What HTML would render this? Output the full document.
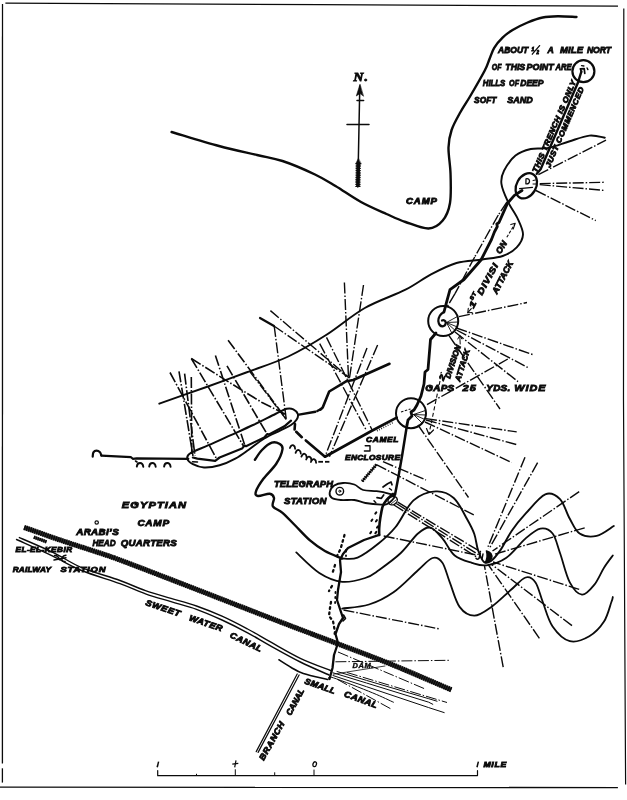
<!DOCTYPE html>
<html><head><meta charset="utf-8"><title>Map</title>
<style>
html,body{margin:0;padding:0;background:#fff;}
body{width:627px;height:800px;overflow:hidden;font-family:"Liberation Sans",sans-serif;}
svg{display:block;position:absolute;left:0;top:0;filter:grayscale(1);}
svg path,svg line,svg circle,svg ellipse{fill:none;stroke:#0b0b0b;stroke-linecap:round;stroke-linejoin:round;}
svg .b{stroke-linecap:butt;}
svg .fl{fill:#0b0b0b;}
svg text{font-family:"Liberation Sans",sans-serif;font-weight:bold;font-style:italic;fill:#0b0b0b;stroke:#0b0b0b;stroke-width:0.85;}
svg text.s{font-family:"Liberation Serif",serif;}
svg text.n{stroke-width:0.35;}
</style></head>
<body>
<svg width="627" height="800" viewBox="0 0 627 800">
<path d="M5.4 3.1 L320 4.7 L618 6.2" stroke-width="1.3" class="b"/>
<path d="M2.5 4.1 L2.4 763.5" stroke-width="1.3" class="b"/>
<path d="M2.4 768.3 L2.4 782.6" stroke-width="1.3" class="b"/>
<path d="M623.8 8.5 L623.5 400 L625.6 784.6" stroke-width="1.2" class="b"/>
<path d="M0 787.1 L617.9 787.6" stroke-width="1.3" class="b"/>
<path d="M171.6 132 C179.5 134.3 204.8 142.2 219 146 C233.2 149.8 246.4 152.5 257 155 C267.6 157.5 272.8 157.8 282.5 161 C292.2 164.2 306.2 170.3 315 174.5 C323.8 178.7 327.8 181.4 335.5 186 C343.2 190.6 352.5 197.3 361 202 C369.5 206.7 379.1 210.7 386.5 214 C393.9 217.3 398.5 219.6 405.5 222 C412.5 224.4 422.3 228.7 428.5 228.5 C434.7 228.3 438.9 225.1 442.5 220.8 C446.1 216.6 448.7 211 450 203 C451.3 195 450.8 182.2 450.5 173 C450.2 163.8 448.3 154.7 448.5 147.5 C448.7 140.3 449.6 135.9 451.6 130 C453.6 124.1 457.4 117.6 460.5 112 C463.6 106.4 466 103.3 470 96.5 C474 89.7 481.2 77.2 484.5 71 C487.8 64.8 487.9 62.9 489.5 59 C491.1 55.1 492 51.4 494.2 47.8 C496.4 44.2 499.5 40.6 502.6 37.6 C505.7 34.6 508.4 32.5 512.6 30 C516.8 27.5 522.6 24.6 527.6 22.5 C532.6 20.4 537.7 18.5 542.7 17.5 C547.7 16.5 552.1 16.4 557.7 16.3 C563.3 16.2 573.4 16.9 576.5 17" stroke-width="2.4"/>
<path d="M159.3 403.7 C167.2 400.9 192.2 392.1 206.5 387 C220.8 381.9 231.2 378.1 244.8 373 C258.4 367.9 274.7 362.9 288.3 356.5 C301.9 350.1 313.8 342.9 326.5 334.8 C339.2 326.7 351.6 315.5 364.8 308 C378 300.5 394.5 295.3 405.5 289.7 C416.5 284.1 422.5 278.8 431 274.4 C439.5 269.9 448 265.5 456.5 263 C465 260.5 474.3 260.7 482 259.5 C489.7 258.3 496.9 258 502.7 256 C508.5 254 513.3 250.9 516.7 247.3 C520.1 243.7 522.8 239.3 523 234.6 C523.2 229.9 520.5 224.8 518 219.3 C515.5 213.8 510.6 207.4 507.8 201.4 C505 195.4 502 188.7 501.4 183.6 C500.8 178.5 501.6 175.5 504 170.8 C506.4 166.1 511 159.1 515.5 155.5 C520 151.9 525.3 150.3 530.8 149 C536.3 147.7 542.2 149.2 548.6 147.9 C555 146.7 562.2 143.6 569 141.5 C575.8 139.4 583.4 136.2 589.4 135.6 C595.4 135 602.2 137.3 604.8 137.7" stroke-width="1.9"/>
<path d="M254.9 459.7 C256.1 458.1 259.2 452.8 262 450 C264.8 447.2 268.9 443.7 271.8 442.7 C274.7 441.7 277.5 442.7 279.3 443.8 C281.1 444.9 283 445.7 282.5 449.1 C282 452.5 279.3 459.1 276.1 464 C272.9 468.9 266.8 474.2 263.4 478.8 C260 483.4 256.8 488.7 255.9 491.6 C255 494.5 255.7 495.6 258 496 C260.3 496.4 267 493.4 269.7 493.7 C272.4 494 273.5 495.9 274 498 C274.5 500.1 271.5 503.9 272.9 506.4 C274.3 508.9 278.8 509.6 282.5 512.8 C286.2 516 290.6 520.9 295.2 525.5 C299.8 530.1 305.1 536.1 310 540.4 C314.9 544.6 319.6 548 324.9 551 C330.2 554 339.1 557.2 341.9 558.5" stroke-width="2.4"/>
<path d="M341.9 558.5 C344.5 558.4 351.5 560.1 357.6 557.6 C363.8 555.1 372.5 548.4 378.8 543.3 C385.1 538.2 389.8 534.1 395.6 527 C401.4 519.9 406.8 506.3 413.5 500.4 C420.2 494.5 429.1 491.8 435.8 491.4 C442.5 491 448.5 493.4 453.7 498 C458.9 502.6 463.6 513 467 519 C470.4 525 472.5 528.8 474.3 534 C476.1 539.2 476.4 545.3 478 550 C479.6 554.7 481.8 560.2 484 562 C486.2 563.8 488.2 563 491 561 C493.8 559 497.1 554.9 500.6 549.9 C504.1 544.9 507.6 536.8 511.8 530.7 C516 524.6 520.4 519.3 526 513.2 C531.6 507.1 539.6 496.6 545.3 494.3 C551 492 555.9 495.1 560 499.2 C564.1 503.3 566.5 513.1 569.8 518.8 C573.1 524.5 575.1 530.6 579.6 533.5 C584.1 536.4 591 537.1 596.7 535.9 C602.4 534.6 610.9 527.6 613.8 526" stroke-width="1.9"/>
<path d="M296.3 552.4 C300.1 555.8 311.7 568 319.3 572.9 C326.9 577.8 334.6 580.9 342.2 581.8 C349.8 582.6 359.1 579.9 365.2 578 C371.3 576.1 372.9 574.4 378.8 570.2 C384.7 566 394.3 559.1 400.8 553 C407.3 546.9 413.1 537.7 418 533.5 C422.9 529.3 426.1 526.8 430.2 527.6 C434.3 528.4 438.3 533.8 442.4 538.4 C446.5 543 449.8 551.4 454.7 555.5 C459.6 559.6 466.5 561.2 471.8 562.8 C477.1 564.4 480.8 566.1 486.5 565.3 C492.2 564.5 499.5 562.5 506 558 C512.5 553.5 520 543.3 525.7 538.4 C531.4 533.5 535.9 529.4 540.4 528.6 C544.9 527.8 549.3 529.4 552.6 533.5 C555.9 537.6 557.1 544.9 560 553 C562.9 561.1 566.1 575.4 569.8 582.4 C573.5 589.4 577.9 594.3 582 594.7 C586.1 595.1 590.5 589.4 594.2 584.9 C597.9 580.4 600.9 572.6 604 567.7 C607.1 562.8 611.3 557.5 612.8 555.5" stroke-width="1.8"/>
<path d="M342.2 608.6 C346.7 607.9 360.4 607.2 369 604.5 C377.6 601.8 385.3 597.9 393.5 592.2 C401.7 586.5 411.5 575.9 418 570.2 C424.5 564.5 428.5 559.2 432.6 558 C436.7 556.8 439.5 558.7 442.4 562.8 C445.3 566.9 446.9 575 449.8 582.4 C452.7 589.8 455.5 601.3 459.6 606.9 C463.7 612.5 469 615.7 474.3 615.7 C479.6 615.7 485.3 611.2 491.4 606.9 C497.5 602.6 505.3 594.7 511 589.8 C516.7 584.9 521.6 578.7 525.7 577.5 C529.8 576.3 532.6 578.3 535.5 582.4 C538.4 586.5 539.9 594.6 542.8 602 C545.6 609.4 548.1 620 552.6 626.5 C557.1 633 563.7 639.6 569.8 641.2 C575.9 642.8 583.6 639.6 589.3 636.3 C595 633 600.3 627.3 604 621.6 C607.7 615.9 609.9 606.1 611.4 602 C612.9 597.9 612.6 597.8 612.8 597" stroke-width="1.8"/>
<circle cx="583.4" cy="71.2" r="11" stroke-width="2.2"/>
<path d="M581.4 71.5 L578.1 82.2 L540.6 169.3 L536.8 173.8" stroke-width="2.4"/>
<path d="M581.4 72 L580.3 68.8 L584.2 68.6 L584.8 73.3" stroke-width="1.7"/>
<path d="M581.5 65.7 L583.9 66" stroke-width="1.3"/>
<path d="M587.1 68 L587.9 69.6" stroke-width="1.4"/>
<ellipse cx="526.3" cy="185.8" rx="9.7" ry="13.4" transform="rotate(30 526.3 185.8)" stroke-width="2.3"/>
<path d="M526 178.8 q3.8 -0.6 3.5 2.8 q-0.6 2.8 -3.6 2.2 z" stroke-width="1.3"/>
<path d="M519.6 188.7 L532.5 187.3" stroke-width="1.2"/>
<path d="M533 180.5 L535.5 180" stroke-width="1"/>
<path d="M533 184 L535.8 184" stroke-width="1"/>
<path d="M522 190.5 L514.4 195.4 L507.7 203 L502.9 213.6 L499 222.5 L496.8 224 L497.3 226.5 L494.4 232 L491.5 239.5 L481 260 L464 279.5 L450 289.7 L446.5 302.4 L444 312" stroke-width="2.8"/>
<circle cx="443.2" cy="321" r="15" stroke-width="2"/>
<path d="M444 312 Q438.5 315 438.3 321 Q439 326.5 443 326.3 Q446.5 325 445.5 321.5 Q444 319.5 442 320.5" stroke-width="2.2"/>
<path d="M446.5 322.5 L458 316.2" stroke-width="0.9"/>
<path d="M446.5 322.5 L458.2 322" stroke-width="0.9"/>
<path d="M446.5 322.5 L457.3 327" stroke-width="0.9"/>
<path d="M446.5 322.5 L455.2 330.5" stroke-width="0.9"/>
<path d="M446.5 322.5 L452 333.5" stroke-width="0.9"/>
<path d="M436 333 L430.5 339.5 L428 369.5 L425 372 L424 384 L421 396 L417 405 L414 410 L411 412 L412 416 L408 420 L407 425" stroke-width="2.8"/>
<circle cx="411" cy="413.2" r="15" stroke-width="2"/>
<path d="M401 412 L410.5 409" stroke-width="1.1" stroke-dasharray="2.5 1.5" class="b"/>
<path d="M413.5 414.5 L425.5 410.5" stroke-width="0.9"/>
<path d="M413.5 414.5 L425.8 415" stroke-width="0.9"/>
<path d="M413.5 414.5 L425 419.5" stroke-width="0.9"/>
<path d="M413.5 414.5 L422.5 423.5" stroke-width="0.9"/>
<path d="M407 425 L402.2 455 L398.3 477.5 L395 494.8" stroke-width="2.5"/>
<ellipse cx="392.7" cy="500.6" rx="4.8" ry="4" transform="rotate(-30 392.7 500.6)" stroke-width="1.4"/>
<path d="M389.5 502 L394.5 498" stroke-width="0.8"/>
<path d="M391 504 L396 500" stroke-width="0.8"/>
<path d="M393 494 C391.9 495 388.2 497.9 386.5 500 C384.8 502.1 383.6 503.7 382.6 506.7 C381.6 509.7 380.9 514.5 380.3 518 C379.7 521.5 379.4 525.2 379.2 528 C379 530.8 379.2 533.8 379.2 534.9" stroke-width="2.6"/>
<path d="M379.2 534.9 L364 540 L348 548 L343 554 L340 560 L341 572 L338 590 L337 600 L341 612 L343 618 L339 624 L335.5 634 L338 643 L334 655 L332.5 668 L329.5 679" stroke-width="2.3"/>
<path d="M343.5 615 L345.5 618.5 L343 621" stroke-width="1.6"/>
<path d="M344.5 535 L340.5 549 L337 556" stroke-width="2.3" stroke-dasharray="1.7 3.6"/>
<path d="M346 550 L346 556" stroke-width="1.8" stroke-dasharray="1.7 3.6"/>
<path d="M335 565 L332.5 573" stroke-width="2.3" stroke-dasharray="1.7 3.6"/>
<path d="M332 586 L329 591" stroke-width="2.3" stroke-dasharray="1.7 3.6"/>
<path d="M331 602 L330 608 L329 616 L333 621 L335 632 L334 637" stroke-width="2.3" stroke-dasharray="1.7 3.6"/>
<path d="M335.5 592 L335 606" stroke-width="1.8" stroke-dasharray="1 4"/>
<path d="M375.3 513.7 L376.3 512.3" stroke-width="2"/>
<path d="M371.4 520.9 L372.4 519.5" stroke-width="2"/>
<path d="M375.9 521.5 L376.9 520.1" stroke-width="2"/>
<path d="M377 527.7 L378 526.3" stroke-width="2"/>
<path d="M370.2 533.3 L371.2 531.9" stroke-width="2"/>
<path d="M375.3 533.3 L376.3 531.9" stroke-width="2"/>
<path d="M383 487 L387.6 483.7 L391 482 L392 484.8" stroke-width="1.7"/>
<path d="M389.5 488.5 L391.5 490" stroke-width="1.5"/>
<path d="M377 497.7 L381.4 498.3 L383.7 495" stroke-width="1.7"/>
<path d="M374 500.8 L375.8 502.8" stroke-width="1.5"/>
<path d="M389.5 363.8 L353.2 380 L346.5 381.2 L329.2 391.5 L322.7 407.6 L320.5 409.5" stroke-width="2.6"/>
<path d="M299 414.6 L315.4 411.7" stroke-width="2.4"/>
<path d="M317.3 411 L321 409" stroke-width="2.4"/>
<path d="M187.3 458.6 C186.9 456.7 187.1 455.2 190.6 453 C194.1 450.8 201.8 448.2 208.5 445.2 C215.2 442.2 223.4 438.6 230.8 435.2 C238.2 431.8 245.6 428.5 253 425 C260.4 421.5 269.8 416.7 275.4 414 C281 411.3 283.6 409.6 286.6 408.8 C289.6 408 291.4 408.4 293.3 409.3 C295.2 410.2 297.2 412.3 297.8 414 C298.4 415.7 297.8 417.7 296.7 419.5 C295.6 421.3 293.8 423.1 291 425 C288.2 426.9 284.4 428.4 280 430.7 C275.6 432.9 269.5 435.3 264.3 438.5 C259.1 441.7 253.5 446.3 248.7 449.7 C243.9 453.1 240.2 456 235.3 458.6 C230.5 461.2 224.8 463.8 219.6 465.3 C214.4 466.8 208.4 467.7 204 467.5 C199.6 467.3 195.7 465.7 192.9 464.2 C190.1 462.7 187.7 460.5 187.3 458.6Z" stroke-width="2"/>
<path d="M192.9 457.5 L197.3 458.6 L215.2 460.8 L219.6 457.5 L242 448.6 L244.6 445.5 L246 446.2 L264.3 437.4 L267.3 434 L269 434.5 L284.4 426.3 L291 420.7" stroke-width="2.2"/>
<path d="M192.5 461.8 L197.5 462" stroke-width="1.5"/>
<path d="M295 424 L294.6 429.5" stroke-width="2.6"/>
<path d="M296.2 431.8 L301.8 437.2" stroke-width="2.6"/>
<path d="M305.8 440.4 L325 456.7" stroke-width="2.6"/>
<path d="M325 456.7 L371.9 430.8 L396.7 417.6" stroke-width="2.7"/>
<path d="M376.5 429.6 L393 421" stroke-width="1.6" stroke-dasharray="0.8 1.6" class="b" transform="translate(0.5 1.3)"/>
<path d="M92.7 456.6 C92.8 455.9 92.8 453.4 93.4 452.4 C94 451.4 95.4 450.6 96.5 450.6 C97.6 450.6 99.2 451.4 100 452.2 C100.8 453 101.1 454.9 101.3 455.4" stroke-width="2.2"/>
<path d="M101.3 455.6 L131 457.2 L132.8 458.8 L136.7 458.3 L188.3 458.8" stroke-width="2.2"/>
<path d="M136.8 466.6 q0.4 -3.6 3.2 -3.6 q2.8 0 3.3 3.8" stroke-width="1.9"/>
<path d="M149.2 466.6 q0.4 -3.6 3.2 -3.6 q2.8 0 3.3 3.8" stroke-width="1.9"/>
<path d="M164.1 466.6 q0.4 -3.6 3.2 -3.6 q2.8 0 3.3 3.8" stroke-width="1.9"/>
<path d="M135.5 461 L137 462" stroke-width="1.6"/>
<path d="M289.9 448 q1.5 -3.6 3.6 -2.6 q1.6 0.8 1.6 3.4" stroke-width="1.8"/>
<path d="M295.6 452.8 q1.5 -3.6 3.6 -2.6 q1.6 0.8 1.6 3.4" stroke-width="1.8"/>
<path d="M301.4 456.6 q1.5 -3.6 3.6 -2.6 q1.6 0.8 1.6 3.4" stroke-width="1.8"/>
<path d="M306.2 459.5 q1.5 -3.6 3.6 -2.6 q1.6 0.8 1.6 3.4" stroke-width="1.8"/>
<path d="M310.9 462 q1.5 -3.6 3.6 -2.6 q1.6 0.8 1.6 3.4" stroke-width="1.8"/>
<path d="M318.3 461.8 L323 461.8" stroke-width="1.8" class="b"/>
<path d="M325 461.8 L329.4 461.8" stroke-width="1.8" class="b"/>
<path d="M329.7 492.3 C330.1 490.2 332 487.2 334.2 485.6 C336.4 484.1 339.8 483.2 343.1 483 C346.5 482.8 351 483.3 354.3 484.5 C357.6 485.7 359.5 488.9 363.2 490 C366.9 491.1 372.5 490.6 376.6 491.2 C380.7 491.8 384.8 492.5 387.8 493.4 C390.8 494.3 394.5 494.8 394.5 496.5 C394.5 498.2 390.1 502.4 387.8 503.8 C385.6 505.2 384.7 504.7 381 504.6 C377.3 504.5 369.8 503.8 365.4 503 C360.9 502.2 358.4 500.5 354.3 500 C350.2 499.5 344.6 500.4 340.9 500 C337.2 499.6 333.9 499.2 332 497.9 C330.1 496.6 329.3 494.4 329.7 492.3Z" stroke-width="1.8"/>
<circle cx="339.8" cy="491.2" r="3.8" stroke-width="1.4"/>
<circle cx="339.8" cy="491.2" r="1" stroke-width="1"/>
<path d="M376.5 464.5 L362 481.5" stroke-width="1.4" class="b"/>
<path d="M376.5 464.5 L362 481.5" stroke-width="3.4" stroke-dasharray="1.3 1" class="b"/>
<path d="M365.2 445.8 L370 445.8 L370 451 L364.4 451" stroke-width="1.4"/>
<path d="M24.1 527.4 C30.5 529.6 49.6 536.5 62.4 540.8 C75.2 545.1 90.3 549.8 100.7 553.3 C111.1 556.8 109 555.9 125 561.9 C141 567.9 170.7 579.4 196.5 589.4 C222.3 599.4 256.6 612.8 280 621.8 C303.4 630.8 318.7 636.5 337 643.5 C355.3 650.5 370.9 656.1 390 663.8 C409.1 671.5 441.2 685.5 451.4 689.8" stroke-width="4" class="b" stroke-opacity="0.8"/>
<path d="M24.1 527.4 C30.5 529.6 49.6 536.5 62.4 540.8 C75.2 545.1 90.3 549.8 100.7 553.3 C111.1 556.8 109 555.9 125 561.9 C141 567.9 170.7 579.4 196.5 589.4 C222.3 599.4 256.6 612.8 280 621.8 C303.4 630.8 318.7 636.5 337 643.5 C355.3 650.5 370.9 656.1 390 663.8 C409.1 671.5 441.2 685.5 451.4 689.8" stroke-width="5.3" stroke-dasharray="1.7 0.5" class="b"/>
<path d="M19.4 537.6 C25 540 42.4 547.3 52.8 552.3 C63.2 557.3 70.4 562.9 81.6 567.6 C92.8 572.3 109.3 576.6 120 580.5 C130.7 584.4 137 587.7 145.5 590.7 C154 593.7 162.5 595.9 171 598.4 C179.5 600.9 188 603 196.5 606 C205 609 213.5 612.4 222 616.2 C230.5 620 239.6 624.8 247.6 629 C255.6 633.2 261.2 636.8 270 641.7 C278.8 646.6 290.2 653.5 300.3 658.3 C310.4 663.1 325.6 668.5 330.6 670.5" stroke-width="1.4"/>
<path d="M16.5 539.5 C22.6 542.3 41.9 550.9 52.8 556.1 C63.6 561.3 70.4 565.9 81.6 570.5 C92.8 575.1 109.3 579.7 120 583.6 C130.7 587.5 137 590.8 145.5 593.8 C154 596.8 162.5 599.1 171 601.7 C179.5 604.3 188 606.2 196.5 609.3 C205 612.3 213.5 616.1 222 620 C230.5 623.9 239.6 628.5 247.6 632.8 C255.6 637.1 261.2 640.7 270 645.6 C278.8 650.5 290.5 657.1 300.3 662 C310.1 666.9 324.2 672.8 329 675" stroke-width="1.4"/>
<path d="M33.8 537.2 L46.5 541.8" stroke-width="2.6" class="b" stroke-opacity="0.7"/>
<path d="M33.8 537.2 L46.5 541.8" stroke-width="3.4" stroke-dasharray="1.5 0.5" class="b"/>
<path d="M54.5 555.5 q4.2 0 4.8 4.2 M66 555.2 q-4.6 0.6 -4 4.8 q0.6 2 3.2 1.4 M54 560 l12 -2.2" stroke-width="1.4"/>
<path d="M279 659.8 C281 661.1 287.1 665.1 291.2 667.4 C295.2 669.7 297.2 671.5 303.3 673.5 C309.4 675.5 323.6 678.5 327.6 679.5" stroke-width="1.7"/>
<path d="M329 679 C329.7 678.8 326 675.5 333.3 677.8 C340.6 680.1 362.7 688.8 372.7 692.9 C382.7 697 389.9 700.7 393.4 702.2" stroke-width="1"/>
<path d="M297.2 674 L256.2 751.6" stroke-width="1.2"/>
<path d="M299.1 675 L258.1 752.4" stroke-width="1.2"/>
<path d="M338 652 L424.5 688.7" stroke-width="1" stroke-dasharray="11 2 1.5 2" class="b"/>
<path d="M337 671.5 L366.5 680.4 L428.7 698.7 L437 701.2" stroke-width="1"/>
<path d="M333 672.8 L366.5 683 L428.7 702.2 L432.8 704.3" stroke-width="1"/>
<path d="M347 672.5 L447 702.5" stroke-width="1" stroke-dasharray="11 2 1.5 2" class="b"/>
<path d="M333 675.5 L366.5 686.7 L428.7 707.6 L444.2 712.6" stroke-width="1"/>
<path d="M337.4 679.4 L392 709.5" stroke-width="1" stroke-dasharray="11 2 1.5 2" class="b"/>
<path d="M335.4 661.8 L449.4 660.3" stroke-width="1" stroke-dasharray="11 2 1.5 2" class="b"/>
<path d="M333.3 674.2 L385 666" stroke-width="0.8"/>
<path d="M343.5 610 L440 629" stroke-width="1.4" stroke-dasharray="11 2 1.5 2" class="b"/>
<path d="M359.8 86 L357.8 187" stroke-width="1.5"/>
<path d="M359.9 84.5 L356.3 96 L360 93.5 L363.3 96 Z" stroke-width="0.6" class="fl"/>
<path d="M347 124.4 L369 124.6" stroke-width="1.5"/>
<path d="M357 100.6 L363.6 100.6" stroke-width="1.5"/>
<path d="M358.3 163 L357.9 187" stroke-width="3.6" class="b"/>
<path d="M358.3 163 L357.9 187" stroke-width="5.2" stroke-dasharray="1.4 0.9" class="b"/>
<path d="M358.3 158.5 L355.6 164 L361 164 Z" stroke-width="0.5" class="fl"/>
<text class="s" font-size="12" transform="translate(353.5 81) rotate(0) scale(1.134 1)" textLength="12.791" lengthAdjust="spacing">N.</text>
<path d="M157.7 770.6 L157.7 775.7 L477.5 775.6 L477.5 770.7" stroke-width="1.2"/>
<path d="M196.5 775.6 L196.5 774.2" stroke-width="1"/>
<path d="M274.7 775.6 L274.7 772.7" stroke-width="1"/>
<path d="M235.3 775.6 L235.3 769.7" stroke-width="1"/>
<path d="M314 775.6 L314 770" stroke-width="1"/>
<path d="M158.6 761.6 L157.2 767.2" stroke-width="1.5" class="b"/>
<path d="M236 760.3 L234.7 767.3" stroke-width="1.2" class="b"/>
<path d="M232.3 764.2 L238.3 763.4" stroke-width="1.2" class="b"/>
<ellipse cx="314.7" cy="764.2" rx="1.7" ry="2.5" transform="rotate(15 314.7 764.2)" stroke-width="1.3"/>
<path d="M478.4 761.6 L477 767.2" stroke-width="1.5" class="b"/>
<text class="t" font-size="7.6" transform="translate(483.4 767.2) rotate(0) scale(1.141 1)" textLength="19.986" lengthAdjust="spacing">MILE</text>
<text class="t" font-size="9.4" transform="translate(498.1 53.4) rotate(0)" textLength="30.1" lengthAdjust="spacingAndGlyphs">ABOUT</text>
<text class="t" font-size="9.4" transform="translate(547.4 53.4) rotate(0)" textLength="6.3" lengthAdjust="spacingAndGlyphs">A</text>
<text class="t" font-size="9.4" transform="translate(560.1 53.4) rotate(0) scale(1.013 1)" textLength="22.696" lengthAdjust="spacing">MILE</text>
<text class="t" font-size="9.4" transform="translate(586.9 53.4) rotate(0)" textLength="24.2" lengthAdjust="spacingAndGlyphs">NORT</text>
<text class="t" font-size="5" transform="translate(531.5 50.5) rotate(0)">1</text>
<path d="M532.3 54.2 L539.6 45.6" stroke-width="1.3"/>
<text class="t" font-size="4.5" transform="translate(536.5 54) rotate(0)">2</text>
<text class="t" font-size="9.4" transform="translate(491.7 70) rotate(0)" textLength="9.7" lengthAdjust="spacingAndGlyphs">OF</text>
<text class="t" font-size="9.4" transform="translate(505.3 70) rotate(0)" textLength="19.9" lengthAdjust="spacingAndGlyphs">THIS</text>
<text class="t" font-size="9.4" transform="translate(526.6 70) rotate(0)" textLength="27.1" lengthAdjust="spacingAndGlyphs">POINT</text>
<text class="t" font-size="9.4" transform="translate(555.5 70) rotate(0)" textLength="16.1" lengthAdjust="spacingAndGlyphs">ARE</text>
<text class="t" font-size="9.4" transform="translate(482.8 86) rotate(0)" textLength="22.5" lengthAdjust="spacingAndGlyphs">HILLS</text>
<text class="t" font-size="9.4" transform="translate(509.1 86) rotate(0)" textLength="9.9" lengthAdjust="spacingAndGlyphs">OF</text>
<text class="t" font-size="9.4" transform="translate(520.2 86) rotate(0)" textLength="23.3" lengthAdjust="spacingAndGlyphs">DEEP</text>
<text class="t" font-size="9.4" transform="translate(474.1 102.6) rotate(0)" textLength="22.2" lengthAdjust="spacingAndGlyphs">SOFT</text>
<text class="t" font-size="9.4" transform="translate(507.3 102.6) rotate(0)" textLength="25.5" lengthAdjust="spacingAndGlyphs">SAND</text>
<text class="t" font-size="8.4" transform="translate(406 204.4) rotate(0) scale(1.139 1)" textLength="27.208" lengthAdjust="spacing">CAMP</text>
<text class="t" font-size="9.6" transform="translate(425.2 391.2) rotate(0) scale(1.036 1)" textLength="27.986" lengthAdjust="spacing">GAPS</text>
<text class="t" font-size="9.6" transform="translate(462.5 391.2) rotate(0) scale(1.145 1)" textLength="11.786" lengthAdjust="spacing">25</text>
<text class="t" font-size="9.6" transform="translate(486.3 391.2) rotate(0) scale(1.037 1)" textLength="23.055" lengthAdjust="spacing">YDS.</text>
<text class="t" font-size="9.6" transform="translate(514.3 391.2) rotate(0) scale(1.132 1)" textLength="27.463" lengthAdjust="spacing">WIDE</text>
<text class="t" font-size="7.6" transform="translate(366 442.4) rotate(0) scale(1.11 1)" textLength="29.202" lengthAdjust="spacing">CAMEL</text>
<text class="t" font-size="7.8" transform="translate(345 460) rotate(0) scale(1.068 1)" textLength="51.512" lengthAdjust="spacing">ENCLOSURE</text>
<text class="t" font-size="9.2" transform="translate(273.9 486.7) rotate(0) scale(1.024 1)" textLength="57.819" lengthAdjust="spacing">TELEGRAPH</text>
<text class="t" font-size="9.2" transform="translate(284 503.5) rotate(0) scale(1.048 1)" textLength="40.466" lengthAdjust="spacing">STATION</text>
<text class="t" font-size="9.2" transform="translate(121.8 507.9) rotate(0) scale(1.202 1)" textLength="53.495" lengthAdjust="spacing">EGYPTIAN</text>
<text class="t" font-size="9.2" transform="translate(137.4 526.1) rotate(0) scale(1.094 1)" textLength="28.986" lengthAdjust="spacing">CAMP</text>
<text class="t" font-size="9.2" transform="translate(76.2 534.8) rotate(0) scale(1.068 1)" textLength="39.795" lengthAdjust="spacing">ARABI&#8217;S</text>
<text class="t" font-size="9.4" transform="translate(92.4 545.8) rotate(0)" textLength="23.2" lengthAdjust="spacingAndGlyphs">HEAD</text>
<text class="t" font-size="9.4" transform="translate(120.8 545.8) rotate(0) scale(1.036 1)" textLength="54.064" lengthAdjust="spacing">QUARTERS</text>
<text class="t" font-size="7.2" transform="translate(15.5 551.7) rotate(0) scale(1.132 1)" textLength="49.933" lengthAdjust="spacing">EL-EL-KEBIR</text>
<text class="t" font-size="7.9" transform="translate(12.7 572.4) rotate(0) scale(1.045 1)" textLength="36.651" lengthAdjust="spacing">RAILWAY</text>
<text class="t" font-size="7.9" transform="translate(60.5 572.4) rotate(0) scale(1.189 1)" textLength="37.851" lengthAdjust="spacing">STATION</text>
<text class="t" font-size="8.4" transform="translate(145 605) rotate(18.6) scale(1.114 1)" textLength="32.377" lengthAdjust="spacing">SWEET</text>
<text class="t" font-size="8.4" transform="translate(188.4 620.3) rotate(18.8) scale(1.093 1)" textLength="31.785" lengthAdjust="spacing">WATER</text>
<text class="t" font-size="8.4" transform="translate(229.2 637.1) rotate(25.6) scale(1.095 1)" textLength="31.487" lengthAdjust="spacing">CANAL</text>
<text class="t" font-size="8.3" transform="translate(263.8 761.1) rotate(-60.8) scale(1.107 1)" textLength="38.816" lengthAdjust="spacing">BRANCH</text>
<text class="t" font-size="8.3" transform="translate(290.8 716) rotate(-62.1)" textLength="28.9" lengthAdjust="spacingAndGlyphs">CANAL</text>
<text class="t" font-size="8.4" transform="translate(304 683.5) rotate(19.2) scale(1.058 1)" textLength="30.223" lengthAdjust="spacing">SMALL</text>
<text class="t" font-size="8.4" transform="translate(343.6 696.2) rotate(20.5) scale(1.097 1)" textLength="31.525" lengthAdjust="spacing">CANAL</text>
<text class="n" font-size="6.6" transform="translate(352.4 667.5) rotate(0) scale(1.135 1)" textLength="18.504" lengthAdjust="spacing">DAM.</text>
<text class="t" font-size="7.5" transform="translate(536.8 173.1) rotate(-66.7) scale(1.118 1)" textLength="89.013" lengthAdjust="spacing">THIS TRENCH IS ONLY</text>
<text class="t" font-size="7.5" transform="translate(549.9 167.9) rotate(-66.7) scale(1.118 1)" textLength="77.392" lengthAdjust="spacing">JUST COMMENCED</text>
<text class="t" font-size="8.2" transform="translate(473.6 308.8) rotate(-61.9)" textLength="6.6" lengthAdjust="spacingAndGlyphs">1</text>
<text class="t" font-size="5.2" transform="translate(472.5 300.5) rotate(-61.3) scale(1.139 1)" textLength="7.308" lengthAdjust="spacing">ST</text>
<text class="t" font-size="8.6" transform="translate(481.9 295.7) rotate(-61.5) scale(1.211 1)" textLength="28.388" lengthAdjust="spacing">DIVISI</text>
<text class="t" font-size="8.6" transform="translate(500.3 254.4) rotate(-57.3) scale(1.018 1)" textLength="13.083" lengthAdjust="spacing">ON</text>
<path d="M467.8 312.7 L471.3 308.7" stroke-width="1.1"/>
<path d="M468.3 308.3 L467.8 312.7 L472.2 312.5" stroke-width="1.1"/>
<text class="t" font-size="8.6" transform="translate(497 294.4) rotate(-62.5) scale(1.023 1)" textLength="34.706" lengthAdjust="spacing">ATTACK</text>
<text class="t" font-size="7.5" transform="translate(443.5 381) rotate(-68.2)" textLength="5.4" lengthAdjust="spacingAndGlyphs">2</text>
<text class="t" font-size="8" transform="translate(450 379) rotate(-71.6)" textLength="34.8" lengthAdjust="spacingAndGlyphs">DIVISION</text>
<text class="t" font-size="8" transform="translate(460 382) rotate(-72.6) scale(1.032 1)" textLength="32.494" lengthAdjust="spacing">ATTACK</text>
<path d="M441 373 L441.3 372.5" stroke-width="1.4"/>
<path d="M440 377 L440.3 376.5" stroke-width="1.4"/>
<path d="M460.2 344 L459.8 336" stroke-width="1"/>
<path d="M457.8 339 L459.8 335.5 L461.8 339" stroke-width="1"/>
<circle cx="96.7" cy="522.5" r="1.7" stroke-width="1.2"/>
<path d="M538.4 174.6 L606 140.2" stroke-width="1.4" stroke-dasharray="11 2 1.5 2" class="b"/>
<path d="M539.7 183.6 L604.8 182.3" stroke-width="1.4" stroke-dasharray="11 2 1.5 2" class="b"/>
<path d="M539.7 184.6 L604.8 190.5" stroke-width="1.4" stroke-dasharray="11 2 1.5 2" class="b"/>
<path d="M535.9 190.5 L595.8 220.6" stroke-width="1.4" stroke-dasharray="11 2 1.5 2" class="b"/>
<path d="M507 202 L498.3 215" stroke-width="1.4" stroke-dasharray="11 2 1.5 2" class="b"/>
<path d="M498.3 215 L474.7 257" stroke-width="1.4" stroke-dasharray="11 2 1.5 2" class="b"/>
<path d="M474.7 257 L455 293.7" stroke-width="1.4" stroke-dasharray="11 2 1.5 2" class="b"/>
<path d="M455 293.7 L447 307" stroke-width="1.4" stroke-dasharray="11 2 1.5 2" class="b"/>
<path d="M506.8 237.3 L514.7 224.2" stroke-width="1.1" stroke-dasharray="3 1.6" class="b"/>
<path d="M510.8 224.6 L515.2 223.2 L513.2 229" stroke-width="1.1"/>
<path d="M459 316.6 L527 302.5" stroke-width="1.4" stroke-dasharray="11 2 1.5 2" class="b"/>
<path d="M456.5 328 L533.3 354.8" stroke-width="1.4" stroke-dasharray="11 2 1.5 2" class="b"/>
<path d="M456.5 330 L529.5 368.4" stroke-width="1.4" stroke-dasharray="11 2 1.5 2" class="b"/>
<path d="M455 332 L518 381.6" stroke-width="1.4" stroke-dasharray="11 2 1.5 2" class="b"/>
<path d="M449 335.7 L500 409" stroke-width="1.4" stroke-dasharray="11 2 1.5 2" class="b"/>
<path d="M427 404.6 L507.8 359" stroke-width="1.4" stroke-dasharray="11 2 1.5 2" class="b"/>
<path d="M440 381 L429.2 433" stroke-width="1.1" stroke-dasharray="4 2.5" class="b"/>
<path d="M426.5 428.5 L429 434.5 L433.5 430" stroke-width="1.2"/>
<path d="M426 418.6 L516.7 431.9" stroke-width="1.4" stroke-dasharray="11 2 1.5 2" class="b"/>
<path d="M426 420 L516.7 444.6" stroke-width="1.4" stroke-dasharray="11 2 1.5 2" class="b"/>
<path d="M425 422 L511.6 462.5" stroke-width="1.4" stroke-dasharray="11 2 1.5 2" class="b"/>
<path d="M418 425 L468.5 497.5" stroke-width="1.4" stroke-dasharray="11 2 1.5 2" class="b"/>
<path d="M260 318 L274 326" stroke-width="2.2"/>
<path d="M274 326 L349.5 378" stroke-width="1.4" stroke-dasharray="11 2 1.5 2" class="b"/>
<path d="M270.4 310.6 L349.5 378" stroke-width="1.4" stroke-dasharray="11 2 1.5 2" class="b"/>
<path d="M344.4 282.5 L348.5 378" stroke-width="1.4" stroke-dasharray="11 2 1.5 2" class="b"/>
<path d="M363.5 285 L349.5 378" stroke-width="1.4" stroke-dasharray="11 2 1.5 2" class="b"/>
<path d="M377.6 345 L329.4 456.7" stroke-width="1.4" stroke-dasharray="11 2 1.5 2" class="b"/>
<path d="M367 348 L325 456.7" stroke-width="1.4" stroke-dasharray="11 2 1.5 2" class="b"/>
<path d="M326.5 337.4 L372.4 430.5" stroke-width="1.4" stroke-dasharray="11 2 1.5 2" class="b"/>
<path d="M319.7 343.7 L366.6 430.8" stroke-width="1.4" stroke-dasharray="11 2 1.5 2" class="b"/>
<path d="M274.2 326 L286.3 419.5" stroke-width="1.4" stroke-dasharray="11 2 1.5 2" class="b"/>
<path d="M250 371.8 L286.3 419.5" stroke-width="1.4" stroke-dasharray="11 2 1.5 2" class="b"/>
<path d="M170 372.5 L216.5 458.6" stroke-width="1.6" stroke-dasharray="11 2 1.5 2" class="b"/>
<path d="M179 371.4 L193 456" stroke-width="1.6" stroke-dasharray="11 2 1.5 2" class="b"/>
<path d="M184.6 373.7 L195 456" stroke-width="1.6" stroke-dasharray="11 2 1.5 2" class="b"/>
<path d="M191.3 377 L191.8 456" stroke-width="1.6" stroke-dasharray="11 2 1.5 2" class="b"/>
<path d="M191.3 358.5 L243.5 446" stroke-width="1.6" stroke-dasharray="11 2 1.5 2" class="b"/>
<path d="M191.3 358.5 L229.5 382.5 L262 402.5 L286 414.5" stroke-width="1.6" stroke-dasharray="11 2 1.5 2" class="b"/>
<path d="M215.4 355.4 L245 446" stroke-width="1.6" stroke-dasharray="11 2 1.5 2" class="b"/>
<path d="M228.1 340.2 L286.6 419.5" stroke-width="1.6" stroke-dasharray="11 2 1.5 2" class="b"/>
<path d="M227 365.8 L267 434" stroke-width="1.6" stroke-dasharray="11 2 1.5 2" class="b"/>
<path d="M486.5 551 Q492.8 553 491.6 558 Q490 562 485.3 562.6 Q488.3 557 486.5 551" stroke-width="1.6" class="fl"/>
<path d="M480.3 553 L479.2 558 Q477.8 560.2 476 558.2" stroke-width="1.5"/>
<path d="M483 554 L482 559" stroke-width="1.4"/>
<path d="M525 457.2 L487.5 548" stroke-width="1.4" stroke-dasharray="11 2 1.5 2" class="b"/>
<path d="M537.6 462.7 L489 549" stroke-width="1.4" stroke-dasharray="11 2 1.5 2" class="b"/>
<path d="M579.2 491.6 L492.5 551" stroke-width="1.4" stroke-dasharray="11 2 1.5 2" class="b"/>
<path d="M584.7 527.8 L493.5 554.5" stroke-width="1.4" stroke-dasharray="11 2 1.5 2" class="b"/>
<path d="M579.2 589.4 L493 562" stroke-width="1.4" stroke-dasharray="11 2 1.5 2" class="b"/>
<path d="M572 625.6 L491 564" stroke-width="1.4" stroke-dasharray="11 2 1.5 2" class="b"/>
<path d="M539.4 638.3 L488.5 565" stroke-width="1.4" stroke-dasharray="11 2 1.5 2" class="b"/>
<path d="M503.2 667.2 L484.5 566" stroke-width="1.4" stroke-dasharray="11 2 1.5 2" class="b"/>
<path d="M397.7 502.2 L481 552" stroke-width="1.4" stroke-dasharray="11 2 1.5 2" class="b"/>
<path d="M396.3 503.5 L479 555" stroke-width="1.4" stroke-dasharray="11 2 1.5 2" class="b"/>
<path d="M394 505 L477.5 557.5" stroke-width="1.4" stroke-dasharray="11 2 1.5 2" class="b"/>
<path d="M383.7 536 L476.7 555" stroke-width="1.4" stroke-dasharray="11 2 1.5 2" class="b"/>
<path d="M383 461.7 L426 480" stroke-width="1.4" stroke-dasharray="11 2 1.5 2" class="b"/>
<path d="M376.4 464.6 L473.8 514.9" stroke-width="1.4" stroke-dasharray="11 2 1.5 2" class="b"/>
</svg>
</body></html>
